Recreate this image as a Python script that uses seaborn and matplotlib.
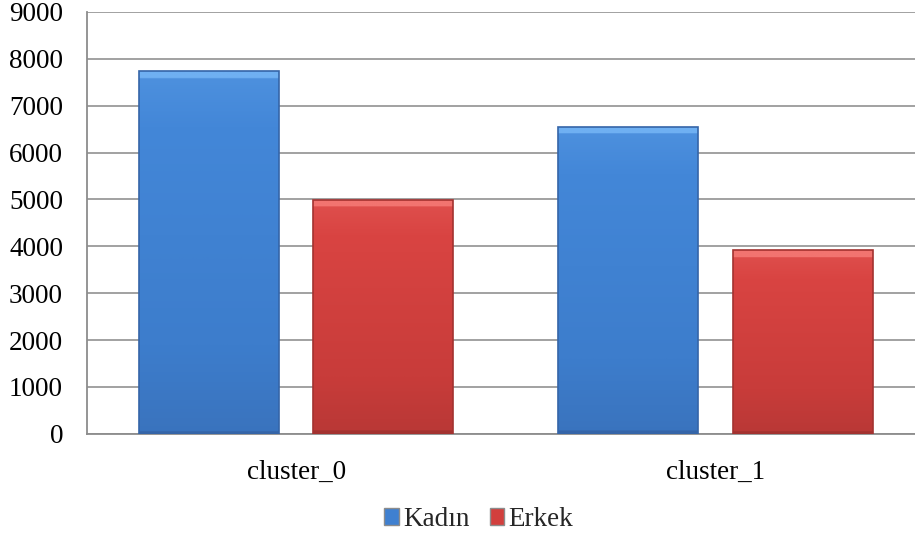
import matplotlib
matplotlib.use("Agg")
import matplotlib.pyplot as plt
import numpy as np
import pandas as pd
import seaborn as sns
from matplotlib.colors import LinearSegmentedColormap
from matplotlib.patches import Patch

clusters = ["cluster_0", "cluster_1"]
groups = ["Kadın", "Erkek"]
kadin = [7740, 6550]
erkek = [4990, 3920]
y_ticks = [0, 1000, 2000, 3000, 4000, 5000, 6000, 7000, 8000, 9000]

df = pd.DataFrame({
    "cluster": clusters * 2,
    "cinsiyet": [groups[0]] * 2 + [groups[1]] * 2,
    "count": kadin + erkek,
})

sns.set_style("white")
plt.rcParams["font.family"] = ["Liberation Serif", "DejaVu Serif"]

palette = {"Kadın": "#3f80d0", "Erkek": "#d23f3d"}
shades = {
    "Kadın": ["#6fb0f2", "#4387d8", "#3d7dcc", "#3565a8"],
    "Erkek": ["#f27470", "#d94442", "#c83c3a", "#a33230"],
}

fig = plt.figure(figsize=(9.15, 5.37), dpi=100)
ax = fig.add_axes([0.0947, 0.192, 0.916, 0.786])

sns.barplot(data=df, x="cluster", y="count", hue="cinsiyet", hue_order=groups,
            palette=palette, width=0.833, gap=0.198, ax=ax, legend=False,
            edgecolor="none", zorder=3)

# gradient fill over each bar, like the office chart look
for i, cont in enumerate(ax.containers):
    g = groups[i]
    cmap = LinearSegmentedColormap.from_list(g, shades[g][::-1])
    for bar in cont:
        x0, y0 = bar.get_x(), bar.get_y()
        w, h = bar.get_width(), bar.get_height()
        grad = np.linspace(0, 1, 256).reshape(-1, 1)
        grad = grad * 0.55 + 0.2
        top = 150.0 / h  # light bevel strip at top
        yy = np.linspace(0, 1, 256).reshape(-1, 1)
        grad = np.where(yy > 1 - top, 1.0, grad)
        grad = np.where(yy < 60.0 / h, 0.0, grad)
        im = ax.imshow(grad, extent=[x0, x0 + w, y0, y0 + h], origin="lower",
                       aspect="auto", cmap=cmap, vmin=0, vmax=1, zorder=4,
                       interpolation="bilinear")
        im.set_clip_path(bar)
        ax.add_patch(plt.Rectangle((x0, y0), w, h, fill=False,
                                   edgecolor=shades[g][3], lw=1.2, zorder=5))

ax.set_xlim(-0.5, 1.5)
ax.set_ylim(0, 9000)
ax.set_yticks(y_ticks)
ax.set_yticklabels([str(v) for v in y_ticks])
ax.yaxis.grid(True, color="#9a9a9a", lw=1.3, zorder=0)
ax.set_axisbelow(True)
for s in ["top", "right"]:
    ax.spines[s].set_visible(False)
for s in ["left", "bottom"]:
    ax.spines[s].set_color("#8c8c8c")
    ax.spines[s].set_linewidth(1.3)
ax.tick_params(axis="both", length=0, labelsize=19.5, colors="black")
ax.tick_params(axis="y", pad=17)
ax.tick_params(axis="x", pad=19)
ax.set_xlabel("")
ax.set_ylabel("")

handles = [Patch(facecolor=palette[g], edgecolor="#8c8c8c", label=g) for g in groups]
fig.legend(handles=handles, loc="lower center", bbox_to_anchor=(0.523, -0.036),
           ncol=2, frameon=False, fontsize=19.5, handlelength=0.55,
           handleheight=0.55, handletextpad=0.15, columnspacing=0.75)

fig.savefig("out.png", dpi=100)
